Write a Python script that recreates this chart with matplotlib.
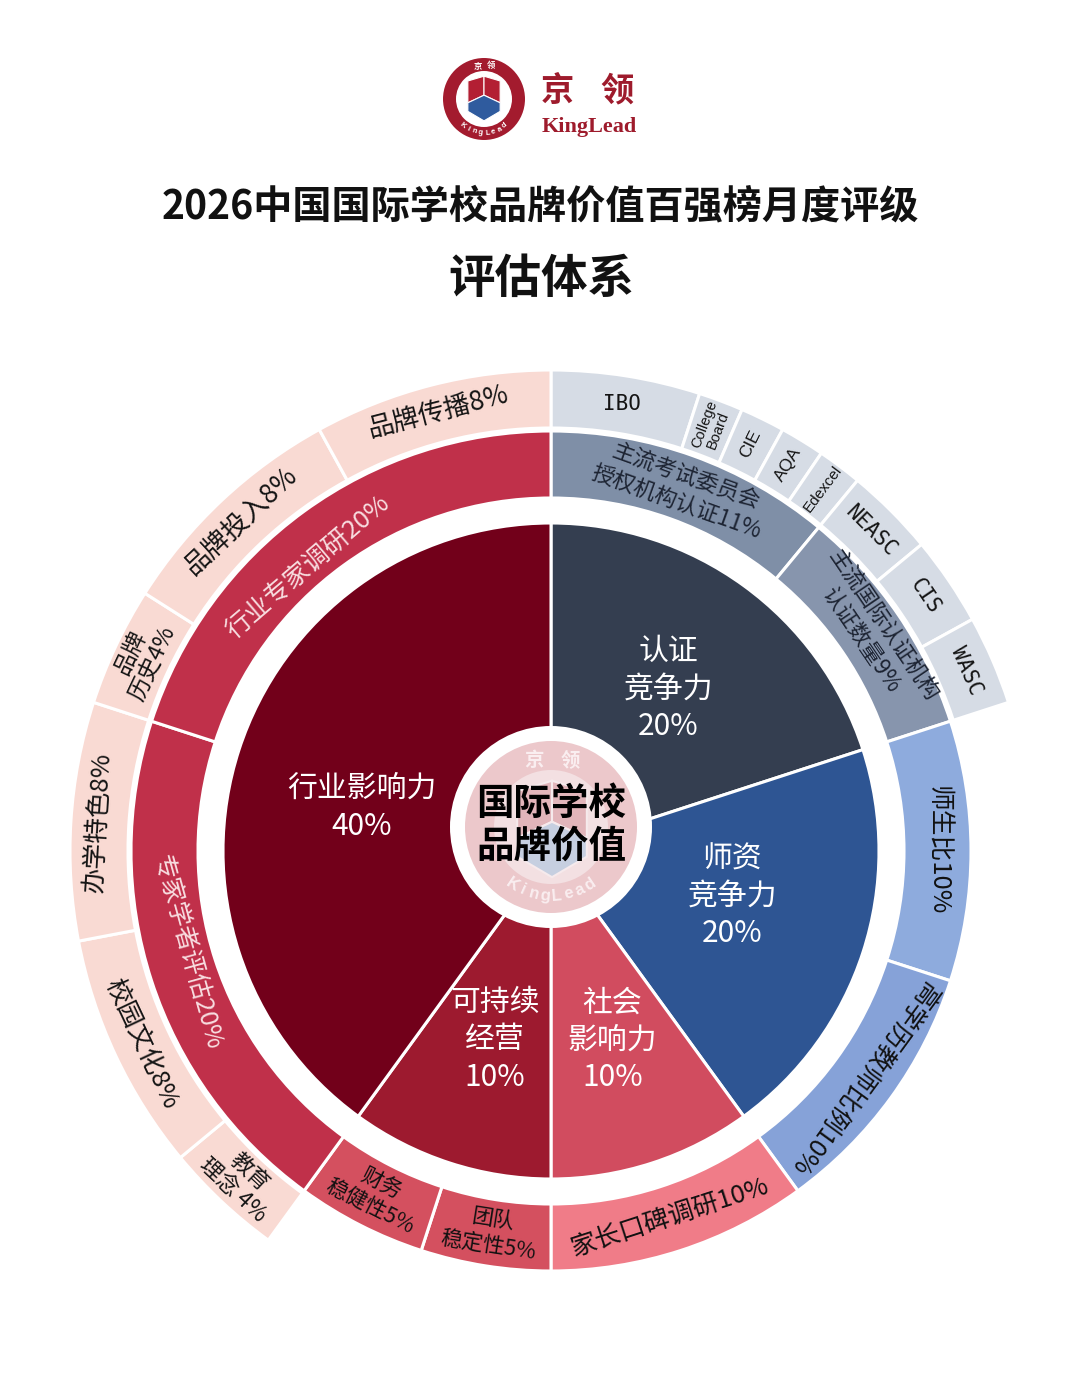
import numpy as np
import matplotlib
matplotlib.use('Agg')
import matplotlib.pyplot as plt
from matplotlib.patches import Circle, Polygon

W, H = 1080, 1397
CJK = ['Noto Sans CJK SC', 'DejaVu Sans']
plt.rcParams['font.family'] = CJK

# ---------------- data ----------------
title = '2026中国国际学校品牌价值百强榜月度评级'
subtitle = '评估体系'
center_text = '国际学校\n品牌价值'
brand_cn = ['京', '领']
brand_en = 'KingLead'

inner_labels = ['认证\n竞争力\n20%', '师资\n竞争力\n20%', '社会\n影响力\n10%',
                '可持续\n经营\n10%', '行业影响力\n40%']
inner_values = [20, 20, 10, 10, 40]

middle_labels = ['主流考试委员会\n授权机构认证11%', '主流国际认证机构\n认证数量9%',
                 '师生比10%', '高学历教师比例10%', '家长口碑调研10%',
                 '团队\n稳定性5%', '财务\n稳健性5%', '专家学者评估20%', '行业专家调研20%']
middle_values = [11, 9, 10, 10, 10, 5, 5, 20, 20]

outer_labels = ['IBO', 'College\nBoard', 'CIE', 'AQA', 'Edexcel', 'NEASC', 'CIS', 'WASC',
                '', '教育\n理念 4%', '校园文化8%', '办学特色8%', '品牌\n历史4%',
                '品牌投入8%', '品牌传播8%']
outer_values = [5, 1.5, 1.5, 1.5, 1.5, 3, 3, 3, 40, 4, 8, 8, 4, 8, 8]

# ---------------- styles ----------------
inner_colors = ['#343e50', '#2e5593', '#d14c5f', '#9d1a2f', '#72001a']
inner_dth = [0, -4, 0, -1.5, -5]
inner_r = [200, 187, 199, 197, 194]

middle_colors = ['#7f8fa7', '#8795ad', '#8eabdd', '#86a2d8', '#f07c88',
                 '#d4505f', '#d4505f', '#c0304a', '#c0304a']
middle_modes = ['tan', 'tan', 'tan', 'tan', 'flip', 'flip', 'flip', 'flip', 'tan']
middle_sizes = [16, 16, 18.5, 18.5, 18.5, 15.5, 15.5, 18, 18.5]
middle_tcol = ['#1d2433', '#1d2433', '#111111', '#111111', '#111111',
               '#111111', '#111111', '#f8dde0', '#f8dde0']
middle_dth = [0, 0, 0, 0, 0, 0, 0, 2.5, -4.5]
middle_r = [384, 388, 386, 386, 385, 386, 386, 378, 374]

outer_colors = ['#d6dce5'] * 8 + [(1, 1, 1, 0)] + ['#f9dad3'] * 6
outer_modes = ['h', 'radial', 'radial', 'radial', 'radial', 'tan', 'tan', 'tan',
               None, 'flip', 'flip', 'tan', 'tan', 'tan', 'tan']
outer_sizes = [15, 10.5, 12.5, 12.5, 11, 15, 15, 15, 0, 16, 18.5, 18.5, 16.5, 19, 19]
MONO = ['DejaVu Sans Mono']
SANS = ['Liberation Sans', 'DejaVu Sans']
outer_fonts = [MONO, SANS, SANS, SANS, SANS, MONO, MONO, MONO, CJK] + [CJK] * 6

fig = plt.figure(figsize=(W / 100, H / 100), dpi=100)
ax = fig.add_axes([0, 0, 1, 1])

cx, cy = 551, H - 851
R_in = 328
R_mid_in, R_mid_out = 353, 420
R_out_in, R_out_out = 423, 481

wp = dict(edgecolor='white', linewidth=2.2)
w1, _ = ax.pie(inner_values, colors=inner_colors, radius=R_in, center=(cx, cy),
               startangle=90, counterclock=False, wedgeprops=wp)
w2, _ = ax.pie(middle_values, colors=middle_colors, radius=R_mid_out, center=(cx, cy),
               startangle=90, counterclock=False,
               wedgeprops=dict(width=R_mid_out - R_mid_in, **wp))
w3, _ = ax.pie(outer_values, colors=outer_colors, radius=R_out_out, center=(cx, cy),
               startangle=90, counterclock=False,
               wedgeprops=dict(width=R_out_out - R_out_in, **wp))
for wdg, lab in zip(w3, outer_labels):
    if lab == '':
        wdg.set_visible(False)


def mids(values):
    c = np.cumsum([0] + list(values))
    return [(c[i] + c[i + 1]) / 2 / c[-1] * 360 for i in range(len(values))]


def pos(theta, r, ox=cx, oy=cy):
    t = np.radians(theta)
    return ox + r * np.sin(t), oy + r * np.cos(t)


def rot(theta, mode):
    if mode == 'tan':
        return -theta
    if mode == 'flip':
        return 180 - theta
    if mode == 'radial':
        return 90 - theta
    return 0


LW = 'light'

# inner labels
for th, lab, dth, rr in zip(mids(inner_values), inner_labels, inner_dth, inner_r):
    x, y = pos(th + dth, rr)
    ax.text(x, y, lab, ha='center', va='center', color='white', fontsize=21.5,
            linespacing=1.27, multialignment='center', fontweight=LW)

# middle labels
for th, lab, md, sz, tc, dth, rr in zip(mids(middle_values), middle_labels, middle_modes,
                                         middle_sizes, middle_tcol, middle_dth, middle_r):
    t2 = th + dth
    x, y = pos(t2, rr)
    ax.text(x, y, lab, ha='center', va='center', color=tc, fontsize=sz,
            rotation=rot(t2, md), rotation_mode='anchor', linespacing=1.2,
            multialignment='center', fontweight=LW)

# outer labels
for th, lab, md, sz, fam in zip(mids(outer_values), outer_labels, outer_modes,
                                outer_sizes, outer_fonts):
    if not lab:
        continue
    x, y = pos(th, 453)
    ax.text(x, y, lab, ha='center', va='center', color='#141414', fontsize=sz,
            rotation=rot(th, md), rotation_mode='anchor', linespacing=1.1,
            multialignment='center', family=fam,
            fontweight=LW if fam is CJK else 'normal')


# ---------------- shield helper ----------------
def shield(ox, oy, s, top_col, bot_col, edge, lw, z):
    def P(pts):
        return [(ox + s * px, oy - s * py) for px, py in pts]
    left = [(-17, -19), (0, -24), (0, -4), (-17, 4)]
    right = [(0, -24), (17, -19), (17, 4), (0, -4)]
    bottom = [(-17, 4), (0, -4), (17, 4), (17, 13), (0, 23), (-17, 13)]
    for pts, col in ((left, top_col), (right, top_col), (bottom, bot_col)):
        ax.add_patch(Polygon(P(pts), closed=True, facecolor=col, edgecolor=edge,
                             linewidth=lw, zorder=z))


def arc_text(txt, ox, oy, r, th_start, th_end, size, color, z, weight='bold',
             fam=('Liberation Sans',)):
    n = len(txt)
    for i, ch in enumerate(txt):
        th = th_start + (th_end - th_start) * (i / (n - 1))
        x, y = pos(th, r, ox, oy)
        ax.text(x, y, ch, ha='center', va='center', fontsize=size, color=color,
                rotation=180 - th, rotation_mode='anchor', fontweight=weight,
                family=list(fam), zorder=z)


# ---------------- center badge ----------------
bx, by = 551, H - 827
ax.add_patch(Circle((bx, by), 101, facecolor='white', edgecolor='none', zorder=5))
ax.add_patch(Circle((bx, by), 86, facecolor='#ecc8cb', edgecolor='none', zorder=6))
ax.add_patch(Circle((bx, by), 57, facecolor='#f3e0e2', edgecolor='none', zorder=6))
shield(bx + 1, by - 3, 2.05, '#e2b5ba', '#c6cfe0', '#f6eaec', 1.5, 7)
ax.text(bx - 17, by + 66, brand_cn[0], ha='center', va='center', fontsize=14,
        color='#faeef0', fontweight='bold', zorder=8)
ax.text(bx + 19, by + 66, brand_cn[1], ha='center', va='center', fontsize=14,
        color='#faeef0', fontweight='bold', zorder=8)
arc_text(brand_en, bx, by, 69, 214, 146, 12, '#faeef0', 8)
ax.text(bx, by + 2, center_text, ha='center', va='center', fontsize=27,
        fontweight='bold', color='black', linespacing=1.12, zorder=9)

# ---------------- logo ----------------
lx, ly = 484, H - 99
ax.add_patch(Circle((lx, ly), 41, facecolor='#a31b2e', edgecolor='none'))
ax.add_patch(Circle((lx, ly), 28, facecolor='white', edgecolor='none'))
shield(lx, ly, 0.95, '#b31f33', '#2f5b9e', 'white', 0.8, 3)
ax.text(lx - 6, ly + 33, brand_cn[0], ha='center', va='center', fontsize=6,
        color='white', fontweight='bold')
ax.text(lx + 7, ly + 33, brand_cn[1], ha='center', va='center', fontsize=6,
        color='white', fontweight='bold')
arc_text(brand_en, lx, ly, 34, 218, 142, 5.5, 'white', 3)
ax.text(557, H - 91, brand_cn[0], ha='center', va='center', fontsize=24,
        color='#9e1b2c', fontweight='bold')
ax.text(617, H - 91, brand_cn[1], ha='center', va='center', fontsize=24,
        color='#9e1b2c', fontweight='bold')
ax.text(589, H - 127, brand_en, ha='center', va='center', fontsize=16,
        color='#9e1b2c', fontweight='bold', family=['Liberation Serif', 'DejaVu Serif'])

# ---------------- titles ----------------
ax.text(540, H - 207, title, ha='center', va='center', fontsize=28.2,
        fontweight='bold', color='#111111')
ax.text(541, H - 279, subtitle, ha='center', va='center', fontsize=33.5,
        fontweight='bold', color='#111111')

ax.set_xlim(0, W)
ax.set_ylim(0, H)
ax.set_aspect('auto')
ax.axis('off')
fig.savefig('out.png', dpi=100, facecolor='white')
